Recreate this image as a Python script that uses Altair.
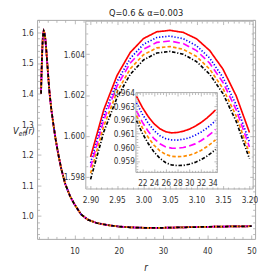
import altair as alt
import pandas as pd

FONT = "Liberation Sans Narrow, Arial Narrow, DejaVu Sans Condensed, Liberation Sans, sans-serif"
FRAME = "#a8a8a8"
INK = "#333333"
W, H = 225, 226

series_names = ["s1", "s2", "s3", "s4", "s5"]
line_colors = ["#ff0000", "#0000ff", "#ff00ff", "#ff8c00", "#000000"]
line_dashes = [[1, 0], [1.3, 1.9], [7, 3.5], [3.6, 2.2], [3.6, 1.8, 1.2, 1.8]]
chart_title = "Q=0.6 & α=0.003"

# main panel
main_xlim = [1.55, 50.8]
main_ylim = [0.925, 1.641]
r_main = [2.45, 2.55, 2.65, 2.75, 2.85, 2.95, 3.05, 3.2, 3.4, 3.65, 4.0, 4.35, 4.8, 5.25, 5.75,
          6.3, 7.0, 7.9, 9.0, 10.0, 11.5, 13.0, 15.0, 17.5, 20.0, 22.5, 25.0, 27.5, 30.0, 35.0,
          40.0, 45.0, 50.0]
v_main = [1.400, 1.462, 1.512, 1.553, 1.583, 1.600, 1.605, 1.600, 1.582, 1.540, 1.470, 1.405,
          1.345, 1.298, 1.250, 1.205, 1.155, 1.105, 1.065, 1.038, 1.005, 0.988, 0.977, 0.970,
          0.9655, 0.9628, 0.9615, 0.9611, 0.9613, 0.9630, 0.9645, 0.9656, 0.9665]

# first inset (peak)
in1_xlim = [2.891, 3.207]
in1_ylim = [1.5974, 1.60562]
r_in1 = [2.900, 2.925, 2.950, 2.975, 3.000, 3.025, 3.050, 3.075, 3.100, 3.125, 3.150, 3.175, 3.200]
v_in1_red = [1.59897, 1.60129, 1.60296, 1.60409, 1.60477, 1.60510, 1.60517, 1.60507, 1.60476, 1.60418, 1.60327, 1.60196, 1.60017]
v_in1_blue = [1.59868, 1.60100, 1.60267, 1.60380, 1.60449, 1.60482, 1.60489, 1.60476, 1.60442, 1.60381, 1.60286, 1.60152, 1.59970]
v_in1_magenta = [1.59846, 1.60078, 1.60245, 1.60357, 1.60425, 1.60458, 1.60465, 1.60452, 1.60418, 1.60356, 1.60262, 1.60128, 1.59946]
v_in1_orange = [1.59817, 1.60049, 1.60216, 1.60329, 1.60398, 1.60431, 1.60438, 1.60424, 1.60389, 1.60327, 1.60232, 1.60097, 1.59914]
v_in1_black = [1.59787, 1.60020, 1.60188, 1.60302, 1.60372, 1.60406, 1.60414, 1.60400, 1.60364, 1.60302, 1.60207, 1.60071, 1.59888]

# second inset (minimum)
in2_xlim = [20.9, 34.8]
in2_ylim = [0.95816, 0.96402]
r_in2 = [21, 22, 23, 24, 25, 26, 27, 28, 29, 30, 31, 32, 33, 34, 34.5]
v_in2_red = [0.96375, 0.96293, 0.96226, 0.96173, 0.96136, 0.96114, 0.96106, 0.96109, 0.96118, 0.96133, 0.96154, 0.96181, 0.96214, 0.96253, 0.96275]
v_in2_blue = [0.96327, 0.96244, 0.96177, 0.96123, 0.96085, 0.96063, 0.96054, 0.96053, 0.96059, 0.96070, 0.96088, 0.96111, 0.96140, 0.96176, 0.96196]
v_in2_magenta = [0.96268, 0.96185, 0.96117, 0.96063, 0.96026, 0.96003, 0.95994, 0.95993, 0.95998, 0.96009, 0.96025, 0.96048, 0.96077, 0.96112, 0.96132]
v_in2_orange = [0.96232, 0.96145, 0.96073, 0.96015, 0.95974, 0.95947, 0.95934, 0.95931, 0.95933, 0.95942, 0.95956, 0.95977, 0.96004, 0.96036, 0.96055]
v_in2_black = [0.96196, 0.96104, 0.96028, 0.95965, 0.95919, 0.95887, 0.95870, 0.95866, 0.95867, 0.95875, 0.95889, 0.95908, 0.95934, 0.95966, 0.95984]


def to_long(rs, columns):
    rows = []
    for name, vals in zip(series_names, columns):
        for r, v in zip(rs, vals):
            rows.append({"r": r, "V": v, "series": name})
    return pd.DataFrame(rows)


main_df = to_long(r_main, [v_main] * 5)
in1_df = to_long(r_in1, [v_in1_red, v_in1_blue, v_in1_magenta, v_in1_orange, v_in1_black])
in2_df = to_long(r_in2, [v_in2_red, v_in2_blue, v_in2_magenta, v_in2_orange, v_in2_black])

color_enc = alt.Color("series:N", scale=alt.Scale(domain=series_names, range=line_colors), legend=None)
dash_enc = alt.StrokeDash("series:N", scale=alt.Scale(domain=series_names, range=line_dashes), legend=None)


def steps(a, b, s):
    n = int(round((b - a) / s))
    return [round(a + i * s, 6) for i in range(n + 1)]


def tick_size(step, big, small):
    return {"condition": {"test": f"abs(datum.value / {step} - round(datum.value / {step})) < 0.001",
                          "value": big}, "value": small}


def label_axis(orient, values, fmt, offset, pad, **kw):
    return alt.Axis(orient=orient, values=values, format=fmt, offset=offset, ticks=False,
                    domain=False, grid=False, labelPadding=pad, **kw)


def tick_axis(orient, values, offset, step, big, small, z, **kw):
    return alt.Axis(orient=orient, values=values, offset=offset, labels=False, domain=False,
                    grid=False, tickSize=tick_size(step, big, small), tickColor=FRAME,
                    tickWidth=0.8, zindex=z, **kw)


# ---------------- main panel ----------------
xs_m = alt.Scale(domain=main_xlim, nice=False, zero=False)
ys_m = alt.Scale(domain=main_ylim, nice=False, zero=False)
mx_major = [10, 20, 30, 40, 50]
mx_minor = steps(2, 50, 2)
my_major = steps(1.0, 1.6, 0.1)
my_minor = steps(0.94, 1.64, 0.02)

m0 = alt.Chart(main_df).mark_line(strokeWidth=1.8).encode(
    x=alt.X("r:Q", scale=xs_m, axis=label_axis(
        "bottom", mx_major, "d", 0, 8, title="r", titleFontStyle="italic", titleFontSize=10,
        titleX=112, titleY=30, titleAlign="center", titleBaseline="middle")),
    y=alt.Y("V:Q", scale=ys_m, axis=label_axis(
        "left", my_major, ".1f", 0, 4, title="V", titleFontStyle="italic", titleFontSize=9.5,
        titleAngle=0, titleX=-25.3, titleY=114.6, titleAlign="left", titleBaseline="middle")),
    color=color_enc, strokeDash=dash_enc)
m1 = alt.Chart(main_df).mark_line(opacity=0).encode(
    x=alt.X("r:Q", scale=xs_m, axis=tick_axis("top", mx_minor, -H, 10, 4, 2.5, 0, title=None)),
    y=alt.Y("V:Q", scale=ys_m, axis=tick_axis(
        "right", my_minor, -W, 0.1, 4, 2.5, 0, title="(r)", titleFontStyle="italic",
        titleFontSize=9, titleAngle=0, titleX=-12.6, titleY=114.6, titleAlign="left",
        titleBaseline="middle")))
m2 = alt.Chart(main_df).mark_line(opacity=0).encode(
    x=alt.X("r:Q", scale=xs_m, axis=tick_axis("bottom", mx_minor, -H, 10, 4, 2.5, 0, title=None)),
    y=alt.Y("V:Q", scale=ys_m, axis=tick_axis(
        "left", my_minor, -W, 0.1, 4, 2.5, 0, title="eff", titleFontStyle="italic",
        titleFontSize=7, titleAngle=0, titleX=-244.3, titleY=117.4, titleAlign="left",
        titleBaseline="middle")))
main = alt.layer(m0, m1, m2).resolve_axis(x="independent", y="independent")


# ---------------- insets ----------------
def inset(df, xlim, ylim, xr, yr, xmaj, xmin, xstep, xfmt, ymaj, ymin, ystep, yfmt):
    xs = alt.Scale(domain=xlim, range=xr, nice=False, zero=False)
    ys = alt.Scale(domain=ylim, range=yr, nice=False, zero=False)
    box = pd.DataFrame({"x0": [xlim[0]], "x1": [xlim[1]], "y0": [ylim[0]], "y1": [ylim[1]]})
    left, right = xr
    bottom, top = yr
    a = alt.Chart(box).mark_rect(fill="white", stroke=FRAME, strokeWidth=1).encode(
        x=alt.X("x0:Q", scale=xs, axis=label_axis("bottom", xmaj, xfmt, bottom - H, 6.5, title=None, zindex=1)),
        x2="x1",
        y=alt.Y("y0:Q", scale=ys, axis=label_axis("left", ymaj, yfmt, -left, 1.5, title=None, zindex=1)),
        y2="y1")
    b = alt.Chart(df).mark_line(strokeWidth=1.7).encode(
        x=alt.X("r:Q", scale=xs, axis=tick_axis("top", xmin, -bottom, xstep, 3.5, 2, 1, title=None)),
        y=alt.Y("V:Q", scale=ys, axis=tick_axis("right", ymin, -(W - left), ystep, 3.5, 2, 1, title=None)),
        color=color_enc, strokeDash=dash_enc)
    c = alt.Chart(df).mark_line(opacity=0).encode(
        x=alt.X("r:Q", scale=xs, axis=tick_axis("bottom", xmin, top - H, xstep, 3.5, 2, 1, title=None)),
        y=alt.Y("V:Q", scale=ys, axis=tick_axis("left", ymin, -right, ystep, 3.5, 2, 1, title=None)))
    return alt.layer(a, b, c).resolve_axis(x="independent", y="independent")


inset1 = inset(in1_df, in1_xlim, in1_ylim, [50.3, 223.0], [174.5, 1.3],
               steps(2.90, 3.20, 0.05), steps(2.90, 3.20, 0.01), 0.05, ".2f",
               steps(1.598, 1.604, 0.002), steps(1.5975, 1.6055, 0.0005), 0.002, ".3f")
inset2 = inset(in2_df, in2_xlim, in2_ylim, [102.0, 186.0], [157.3, 75.0],
               steps(22, 34, 2), steps(21, 34.5, 0.5), 2, "d",
               steps(0.959, 0.964, 0.001), steps(0.9582, 0.964, 0.0002), 0.001, ".3f")

chart = alt.layer(main, inset1, inset2).resolve_scale(
    x="independent", y="independent"
).properties(
    width=W, height=H,
    title=alt.Title(chart_title, font=FONT, fontSize=9.5, fontWeight="normal", color="#222222",
                    anchor="middle", frame="group", offset=1, baseline="alphabetic", dy=6.5),
    autosize=alt.AutoSizeParams(type="none"),
    padding={"left": 30, "top": 8, "right": 3, "bottom": 34},
).configure_view(
    stroke=FRAME, strokeWidth=1
).configure_axis(
    labelFont=FONT, labelFontSize=8.5, labelColor=INK, titleFont=FONT, titleColor="#222222",
    titleFontWeight="normal"
)

chart.save("out.html", embed_options={"renderer": "svg", "actions": False})
